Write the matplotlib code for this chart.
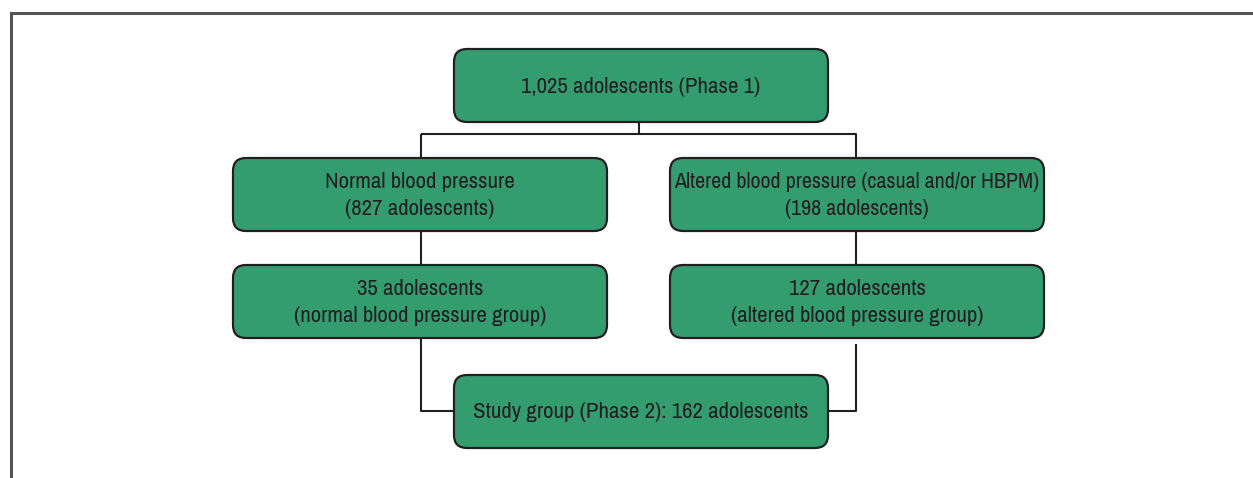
import matplotlib.pyplot as plt
from matplotlib.patches import FancyBboxPatch

# box labels of the flowchart
top_label = "1,025 adolescents (Phase 1)"
row2_labels = ["Normal blood pressure\n(827 adolescents)",
               "Altered blood pressure (casual and/or HBPM)\n(198 adolescents)"]
row3_labels = ["35 adolescents\n(normal blood pressure group)",
               "127 adolescents\n(altered blood pressure group)"]
bottom_label = "Study group (Phase 2): 162 adolescents"

GREEN = "#349d70"
DARK = "#231f20"
FONT = ["Archivo Narrow", "Roboto Condensed", "DejaVu Sans"]

fig = plt.figure(figsize=(12.53, 4.78), dpi=100)
ax = fig.add_axes([0, 0, 1, 1])
ax.set_xlim(0, 1253)
ax.set_ylim(478, 0)
ax.axis("off")


def box(x0, y0, x1, y1, text, size=16.5):
    p = FancyBboxPatch((x0, y0), x1 - x0, y1 - y0,
                       boxstyle="round,pad=0,rounding_size=13",
                       fc=GREEN, ec=DARK, lw=1.6, zorder=2)
    ax.add_patch(p)
    ax.text((x0 + x1) / 2, (y0 + y1) / 2 + 1, text, ha="center", va="center",
            fontsize=size, family=FONT, color=DARK, linespacing=1.38, zorder=3)


def line(xs, ys):
    ax.plot(xs, ys, color=DARK, lw=1.5, zorder=1, solid_capstyle="butt")


# outer frame (top and left only)
ax.plot([11, 1253], [13, 13], color="#555555", lw=2.2)
ax.plot([11, 11], [13, 478], color="#555555", lw=2.2)

# connectors
line([639, 639], [122, 134])
line([421, 856, 856], [134, 134, 158])
line([421, 421], [134, 158])
line([421, 421], [231, 265])
line([856, 856], [231, 265])
line([421, 421, 454], [338, 411, 411])
line([856, 856, 828], [344, 411, 411])

box(454, 49, 828, 122, top_label)
box(233, 158, 607, 231, row2_labels[0])
box(670, 158, 1044, 231, row2_labels[1], size=15.9)
box(233, 265, 607, 338, row3_labels[0])
box(670, 265, 1044, 338, row3_labels[1])
box(454, 375, 828, 448, bottom_label)

fig.savefig("out.png", dpi=100)
